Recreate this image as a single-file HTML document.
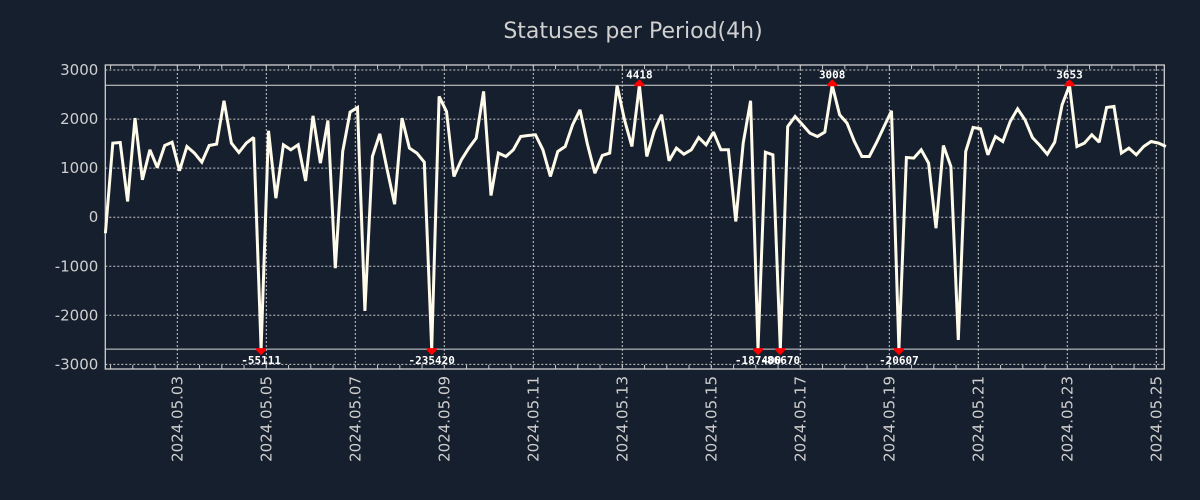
<!DOCTYPE html>
<html><head><meta charset="utf-8"><style>
html,body{margin:0;padding:0;background:#161f2d;}
svg{display:block;font-family:"DejaVu Sans","Liberation Sans",sans-serif;}
</style></head><body>
<svg id="chart" width="1200" height="500">
<rect width="1200" height="500" fill="#161f2d"/>
<text x="633" y="38" text-anchor="middle" font-size="22" fill="#d0d0d0">Statuses per Period(4h)</text>
<g id="grid"></g><g id="axes"></g><g id="series"></g><g id="marks"></g>
</svg>
<script>
const values = [-326,1510,1523,320,2020,762,1374,1013,1462,1530,946,1442,1306,1122,1462,1490,2373,1510,1319,1510,1625,-55111,1761,388,1476,1374,1476,741,2067,1102,1972,-1040,1340,2142,2237,-1911,1238,1700,966,265,2020,1408,1306,1122,-235420,2462,2156,830,
1170,1408,1612,2564,442,1306,1238,1374,1646,1666,1680,1374,830,1340,1442,1884,2190,1490,898,1258,1306,2680,1986,1442,4418,1238,1761,2088,1149,1408,1285,1374,1625,1476,1734,1374,1374,-88,1510,2373,-187400,1326,1272,-86670,1850,2054,1884,1714,1646,1734,3008,2088,
1918,1544,1238,1238,1530,1850,2169,-20607,1217,1204,1374,1102,-224,1462,1034,-2502,1340,1829,1802,1272,1646,1544,1952,2210,1986,1625,1462,1285,1530,2292,3653,1442,1510,1680,1530,2237,2258,1306,1408,1272,1442,1544,1510,1442];
const yTicks = [3000,2000,1000,0,-1000,-2000,-3000];
const xTickDays = [3,5,7,9,11,13,15,17,19,21,23,25];
const startHour = 9.2, stepHours = 4, clipLimit = 2690;

const NS='http://www.w3.org/2000/svg';
const L=105.3,R=1164.3,T=65,B=369;
const yZero=217.2, yPer=49.05/1000;
function yS(v){return yZero - v*yPer;}
const dayPx=44.5;
function xH(h){return 177.3 + (h-48)/24*dayPx;}
function xI(i){return xH(startHour+i*stepHours);}
function el(tag,attrs,parent){const e=document.createElementNS(NS,tag);for(const k in attrs)e.setAttribute(k,attrs[k]);parent.appendChild(e);return e;}
const grid=document.getElementById('grid'),axes=document.getElementById('axes'),series=document.getElementById('series'),marks=document.getElementById('marks');

yTicks.forEach(v=>{
  const y=yS(v);
  const g=el('line',{x1:L,x2:R,y1:y,y2:y,stroke:'#c8c8c8','stroke-width':1,'stroke-dasharray':'2,2'},grid);
  
  
  const t=el('text',{x:L-7,y:y+5,'text-anchor':'end','font-size':15,fill:'#cfcfcf'},axes);
  t.textContent=String(v);
  
  
});
xTickDays.forEach(d=>{
  const x=xH((d-1)*24);
  const g=el('line',{x1:x,x2:x,y1:T,y2:B,stroke:'#c8c8c8','stroke-width':1,'stroke-dasharray':'2,2'},grid);
  
  
  const t=el('text',{x:0,y:0,'text-anchor':'end','font-size':15,fill:'#cfcfcf',transform:`translate(${x+5},${B+7}) rotate(-90)`},axes);
  t.textContent='2024.05.'+String(d).padStart(2,'0');
  
  
});
for(let h=12;h<=25*24;h+=12){
  const x=xH(h); if(x<L||x>R)continue;
  const a=el('line',{x1:x,x2:x,y1:T,y2:T+4,stroke:'#c8c8c8'},axes);
  
  
  const b=el('line',{x1:x,x2:x,y1:B-4,y2:B,stroke:'#c8c8c8'},axes);
  
  
}
[clipLimit,-clipLimit].forEach(v=>{
  const c=el('line',{x1:L,x2:R,y1:yS(v),y2:yS(v),stroke:'#d8d8d8','stroke-width':1},grid);
  
  
});
const frame=el('rect',{x:L,y:T,width:R-L,height:B-T,fill:'none',stroke:'#d0d0d0','stroke-width':1.3},axes);



const pts=values.map((v,i)=>[xI(i),yS(Math.max(-clipLimit,Math.min(clipLimit,v)))]);
const line=el('polyline',{points:pts.map(p=>p[0].toFixed(1)+','+p[1].toFixed(1)).join(' '),fill:'none',stroke:'#fffbea','stroke-width':3,'stroke-linejoin':'miter','stroke-miterlimit':2},series);



values.forEach((v,i)=>{
  if(Math.abs(v)<=clipLimit)return;
  const x=xI(i), up=v>0, y=yS(up?clipLimit:-clipLimit);
  const m=el('path',{d:up?`M${x-5},${y+1}L${x+5},${y+1}L${x+5},${y-1}L${x},${y-6}L${x-5},${y-1}Z`:`M${x-5},${y-1}L${x+5},${y-1}L${x+5},${y+1}L${x},${y+6}L${x-5},${y+1}Z`,fill:'#ff0000'},marks);
  
  
  const t=el('text',{x:x,y:up?y-7:y+15,'text-anchor':'middle','font-size':11,'font-weight':'bold','font-family':'DejaVu Sans Mono, Liberation Mono, monospace',fill:'#ffffff'},marks);
  t.textContent=String(v);
  
  
});
</script>
</body></html>
